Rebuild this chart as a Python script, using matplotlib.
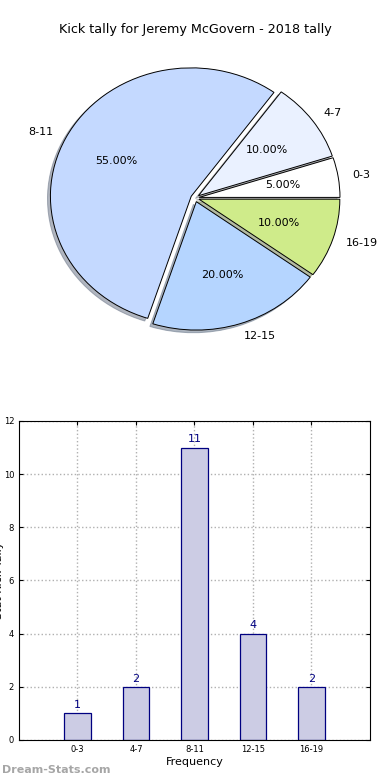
import matplotlib
matplotlib.use('Agg')
import matplotlib.pyplot as plt

# kick tally data
categories = ['0-3', '4-7', '8-11', '12-15', '16-19']
counts = [1, 2, 11, 4, 2]
pie_colors = ['#ffffff', '#eaf1ff', '#c4d9ff', '#b5d5ff', '#cfeb8a']
title = 'Kick tally for Jeremy McGovern - 2018 tally'

fig = plt.figure(figsize=(3.9, 7.8), dpi=100)

# pie chart (top)
ax1 = fig.add_axes([0.0487, 0.5404, 0.9026, 0.4115])
wedges, texts, autotexts = ax1.pie(
    counts, labels=categories, colors=pie_colors, explode=[0.03] * 5,
    autopct='%1.2f%%', shadow=dict(ox=-0.015, oy=-0.015, shade=0.5),
    startangle=0, labeldistance=1.1,
    pctdistance=0.6, wedgeprops=dict(edgecolor='black', linewidth=0.7),
    textprops=dict(fontsize=8))
ax1.set_aspect('auto')
ax1.set_xlim(-1.25, 1.25)
ax1.set_ylim(-1.25, 1.25)
fig.text(0.5, 1 - 30 / 780, title, ha='center', va='center', fontsize=9.2)

# bar chart (bottom)
ax2 = fig.add_axes([0.0487, 0.0513, 0.9, 0.409])
x = list(range(len(categories)))
ax2.bar(x, counts, width=0.45, color='#ccccе4'.replace('е', 'e'),
        edgecolor='navy', linewidth=0.9, zorder=2)
for xi, c in zip(x, counts):
    ax2.text(xi, c + 0.12, str(c), ha='center', va='bottom', color='navy',
             fontsize=8)
ax2.set_xlim(-1, 5)
ax2.set_ylim(0, 12)
ax2.set_xticks(x)
ax2.set_xticklabels(categories)
ax2.set_yticks(range(0, 13, 2))
ax2.tick_params(direction='in', labelsize=6, top=True, right=True, length=3)
ax2.grid(True, linestyle=':', color='#b0b0b0', linewidth=1, zorder=0)
ax2.set_axisbelow(True)
ax2.set_xlabel('Frequency', fontsize=8, labelpad=2)
fig.text(-0.003, 0.5 * (0.0513 + 0.4603), 'Stat Kick Tally', rotation=90,
         ha='center', va='center', fontsize=8)

fig.text(0.005, 1 - 770 / 780, 'Dream-Stats.com', ha='left', va='center',
         fontsize=8, color='#a6a6a6', fontweight='bold')

fig.savefig('out.png', dpi=100)
